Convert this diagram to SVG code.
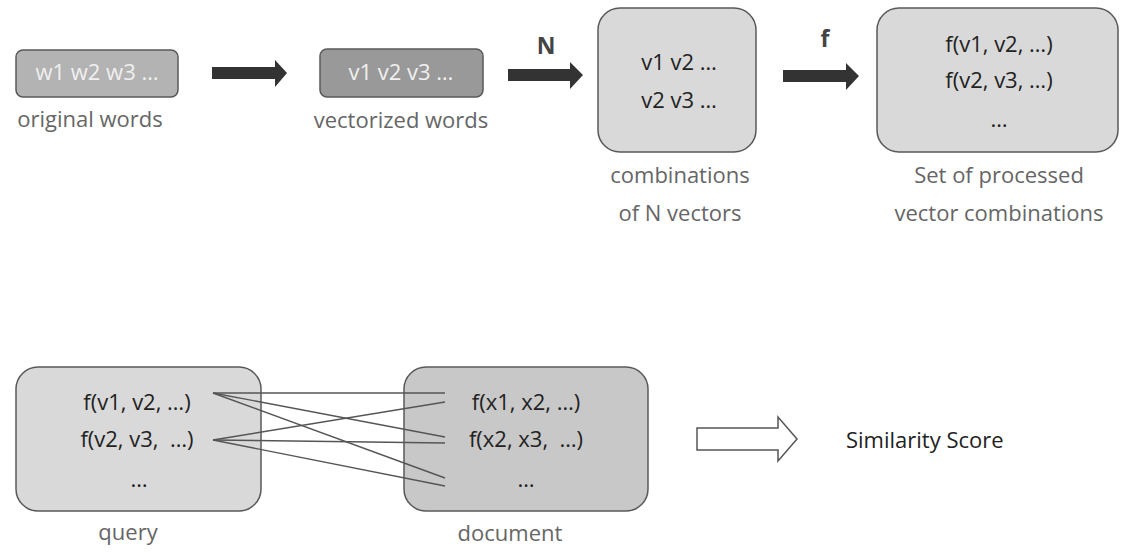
<svg xmlns="http://www.w3.org/2000/svg" width="1121" height="552" viewBox="0 0 1121 552">
  <style>
    text { font-family: "Open Sans", "Noto Sans", "Liberation Sans", sans-serif; font-size: 22px; text-anchor: middle; }
    .box { stroke: #595959; stroke-width: 1.5; }
    .inner-light { fill: #f0f0f0; }
    .inner-dark { fill: #222222; }
    .caption { fill: #666666; }
    .op { fill: #444444; font-weight: bold; font-size: 23px; }
    .solid-arrow { fill: #333333; }
    .link { stroke: #555555; stroke-width: 1.4; fill: none; }
  </style>

  <!-- top pipeline -->
  <g id="original-words">
    <rect class="box" x="16" y="50" width="162" height="47" rx="7" fill="#b3b3b3"/>
    <text class="inner-light" x="97" y="80">w1 w2 w3 …</text>
    <text class="caption" x="90" y="127">original words</text>
  </g>

  <g id="vectorized-words">
    <rect class="box" x="320" y="49" width="163" height="48" rx="7" fill="#999999"/>
    <text class="inner-light" x="401" y="80">v1 v2 v3 …</text>
    <text class="caption" x="401" y="128">vectorized words</text>
  </g>

  <g id="combinations">
    <rect class="box" x="598" y="8" width="158" height="144" rx="22" fill="#d9d9d9"/>
    <text class="inner-dark" x="679" y="70">v1 v2 …</text>
    <text class="inner-dark" x="679" y="108">v2 v3 …</text>
    <text class="caption" x="680" y="183">combinations</text>
    <text class="caption" x="680" y="221">of N vectors</text>
  </g>

  <g id="processed-set">
    <rect class="box" x="877" y="8" width="241" height="144" rx="22" fill="#d9d9d9"/>
    <text class="inner-dark" x="999" y="52">f(v1, v2, …)</text>
    <text class="inner-dark" x="999" y="88">f(v2, v3, …)</text>
    <text class="inner-dark" x="999" y="127">…</text>
    <text class="caption" x="999" y="183">Set of processed</text>
    <text class="caption" x="999" y="221">vector combinations</text>
  </g>

  <!-- bottom comparison -->
  <g id="query">
    <rect class="box" x="16" y="367" width="245" height="144" rx="22" fill="#d9d9d9"/>
    <text class="inner-dark" x="137" y="410">f(v1, v2, …)</text>
    <text class="inner-dark" x="137" y="447" xml:space="preserve">f(v2, v3,  …)</text>
    <text class="inner-dark" x="139" y="487">…</text>
    <text class="caption" x="128" y="540">query</text>
  </g>

  <g id="document">
    <rect class="box" x="404" y="367" width="244" height="144" rx="22" fill="#c8c8c8"/>
    <text class="inner-dark" x="526" y="410">f(x1, x2, …)</text>
    <text class="inner-dark" x="526" y="447" xml:space="preserve">f(x2, x3,  …)</text>
    <text class="inner-dark" x="526" y="487">…</text>
    <text class="caption" x="510" y="541">document</text>
  </g>

  <g id="similarity-score">
    <text class="inner-dark" x="846" y="448" style="text-anchor:start">Similarity Score</text>
  </g>

  <g id="connectors">
    <polygon class="solid-arrow" points="212,67 275,67 275,60 287,73 275,87 275,79 212,79"/>
    <polygon class="solid-arrow" points="508,69 570,69 570,62 583,75 570,89 570,81 508,81"/>
    <text class="op" x="546" y="54">N</text>
    <polygon class="solid-arrow" points="783,70 846,70 846,63 859,76 846,90 846,82 783,82"/>
    <text class="op" x="825" y="47">f</text>

    <line class="link" x1="213" y1="393" x2="445" y2="393"/>
    <line class="link" x1="213" y1="393" x2="445" y2="437"/>
    <line class="link" x1="213" y1="393" x2="445" y2="478"/>
    <line class="link" x1="213" y1="440" x2="445" y2="402"/>
    <line class="link" x1="213" y1="440" x2="445" y2="443"/>
    <line class="link" x1="213" y1="440" x2="445" y2="486"/>

    <polygon points="697,428 778,428 778,417 797,439 778,461 778,450 697,450" fill="#ffffff" stroke="#555555" stroke-width="1.5"/>
  </g>
</svg>
